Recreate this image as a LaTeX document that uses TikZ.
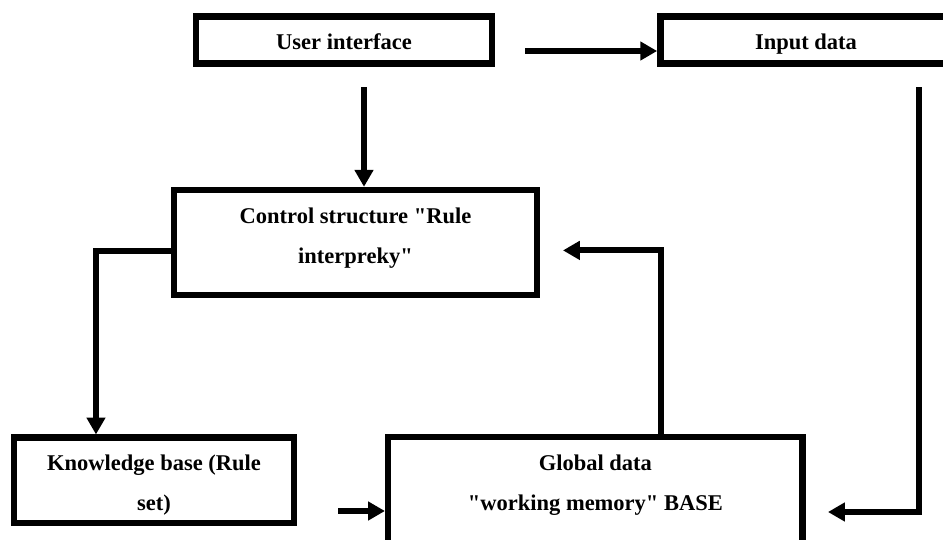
\documentclass[tikz,border=0pt]{standalone}
\usepackage{fontspec}
\setmainfont{Liberation Serif}[Ligatures=TeXOff]
\usetikzlibrary{arrows.meta}

\tikzstyle{block}=[draw, line width=0.16cm, inner sep=0pt, align=center,
  font=\fontsize{16pt}{28.45pt}\selectfont\bfseries]
\tikzstyle{words}=[inner sep=0pt, align=center,
  font=\fontsize{16pt}{28.45pt}\selectfont\bfseries]
\tikzstyle{link}=[line width=0.15cm, -{Triangle[length=0.42cm, width=0.45cm]}]

\begin{document}
\begin{tikzpicture}[x=0.025cm, y=-0.025cm]
  \path[use as bounding box, clip] (0,0) rectangle (943,540);

  \node[block, minimum width=7.4cm,   minimum height=1.18cm, text height=0.55cm, text depth=0.09cm] (ui)  at (344, 40) {User interface};
  \node[block, minimum width=7.28cm,  minimum height=1.18cm, text height=0.55cm, text depth=0.09cm] (inp) at (806, 40) {Input data};
  \node[block, minimum width=9.06cm,  minimum height=2.62cm, text depth=0.33cm]    (ctrl) at (355.5, 242.4) {Control structure "Rule\\interpreky"};
  \node[block, minimum width=6.99cm,  minimum height=2.13cm, text height=1.625cm]  (know) at (154, 480.25)  {Knowledge base (Rule\\set)};
  \node[block, minimum width=10.36cm, minimum height=3.5cm]  (glob) at (595.4, 507) {};
  \node[words] (globtxt) at ([yshift=-0.125cm]glob.center |- know.center) {Global data\\"working memory" BASE};

  \coordinate (uiout)   at (525, 51);
  \coordinate (uidown)  at (364, 87);
  \coordinate (inpdown) at (919, 87);
  \coordinate (globin)  at (828, 512);
  \coordinate (knowout) at (338, 511);

  \draw[link] (uiout) -- (uiout -| inp.west);
  \draw[link] (uidown) -- (uidown |- ctrl.north);
  \draw[link] ([yshift=-0.21cm]ctrl.west) -| ([xshift=-1.45cm]know.north);
  \draw[link] ([xshift=1.64cm]glob.north) |- ([xshift=0.575cm, yshift=-0.2cm]ctrl.east);
  \draw[link] (inpdown) |- (globin);
  \draw[link] (knowout) -- (knowout -| glob.west);
\end{tikzpicture}
\end{document}
